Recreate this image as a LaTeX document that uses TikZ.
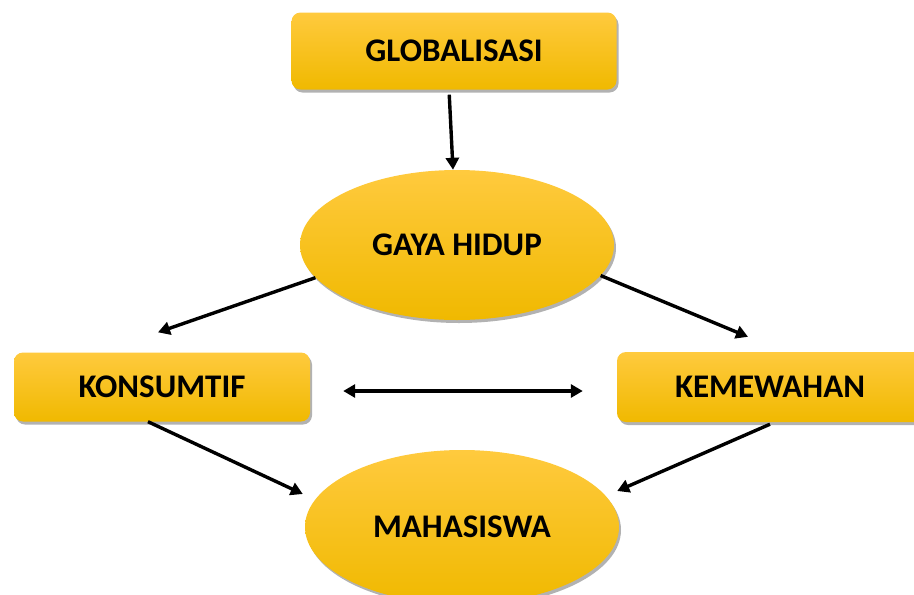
\documentclass[tikz,border=0pt]{standalone}
\usepackage{fontspec}
\setmainfont{Carlito}
\usetikzlibrary{shapes.geometric,shadows,arrows.meta,calc}
\definecolor{yctop}{RGB}{255,202,62}
\definecolor{ycmid}{RGB}{255,198,10}
\definecolor{ycbot}{RGB}{240,185,0}
\tikzset{
  yfill/.style={top color=yctop, middle color=ycmid, bottom color=ycbot,
    drop shadow={shadow xshift=2pt, shadow yshift=-3pt, fill=black, opacity=0.3},
    font=\fontsize{33}{38}\selectfont\bfseries, text=black, inner sep=0pt},
  rbox/.style={yfill, rectangle, rounded corners=9pt},
  ell/.style={yfill, ellipse},
  arr/.style={line width=3.4pt, -{Triangle[length=12pt,width=13pt]}},
  darr/.style={line width=3.4pt, {Triangle[length=12pt,width=13pt]}-{Triangle[length=12pt,width=13pt]}},
}
\begin{document}
\begin{tikzpicture}[x=1pt,y=-1pt]
\useasboundingbox (0,0) rectangle (914,595);
\clip (0,0) rectangle (914,595);
\node[rbox, minimum width=325pt, minimum height=77pt] (glob) at (454,51) {GLOBALISASI};
\node[ell, minimum width=314pt, minimum height=150pt] (gaya) at (457,245) {GAYA HIDUP};
\node[rbox, minimum width=296pt, minimum height=69pt] (kons) at (162,387) {KONSUMTIF};
\node[rbox, minimum width=306pt, minimum height=70pt] (kem) at (770,387) {KEMEWAHAN};
\node[ell, minimum width=314pt, minimum height=154pt] (maha) at (462,527) {MAHASISWA};
\coordinate (kon-in) at ($(kons.north)+(-4,-20)$);
\coordinate (kem-in) at ($(kem.north)+(-22,-15)$);
\coordinate (maha-l) at ($(maha.west)+(-2,-33)$);
\coordinate (maha-r) at ($(maha.east)+(-2,-36)$);
\draw[arr, shorten <=5pt] ([xshift=-5pt]glob.south) -- ([xshift=-4pt]gaya.north);
\draw[arr] (gaya.193) -- (kon-in);
\draw[arr] (gaya.348) -- (kem-in);
\draw[darr, shorten <=33pt, shorten >=34pt] ([yshift=-4pt]kons.east) -- ([yshift=-4pt]kem.west);
\draw[arr] ([xshift=-14pt]kons.south) -- (maha-l);
\draw[arr] ([yshift=-2pt]kem.south) -- (maha-r);
\end{tikzpicture}
\end{document}
